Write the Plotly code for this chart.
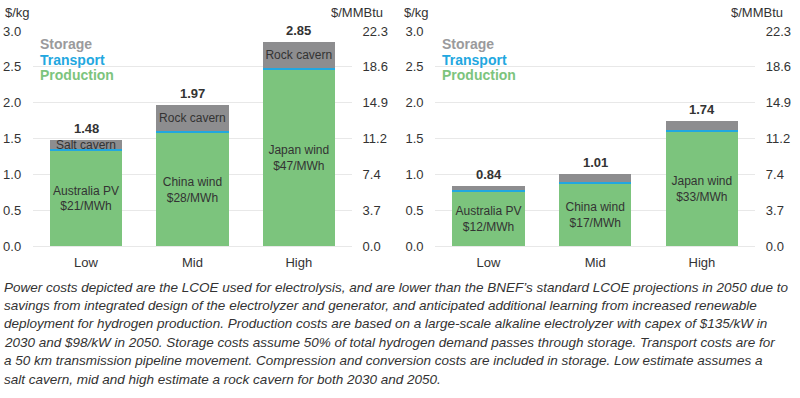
import plotly.graph_objects as go

categories = ["Low", "Mid", "High"]
# Left panel (2030)
left_production = [1.32, 1.57, 2.45]
left_transport = [0.03, 0.03, 0.03]
left_storage = [0.13, 0.37, 0.37]
left_totals = [1.48, 1.97, 2.85]
left_prod_labels = ["Australia PV<br>$21/MWh", "China wind<br>$28/MWh", "Japan wind<br>$47/MWh"]
left_storage_labels = ["Salt cavern", "Rock cavern", "Rock cavern"]
# Right panel (2050)
right_production = [0.75, 0.86, 1.59]
right_transport = [0.03, 0.03, 0.03]
right_storage = [0.06, 0.12, 0.12]
right_totals = [0.84, 1.01, 1.74]
right_prod_labels = ["Australia PV<br>$12/MWh", "China wind<br>$17/MWh", "Japan wind<br>$33/MWh"]
right_storage_labels = ["", "", ""]

kg_ticks = [0.0, 0.5, 1.0, 1.5, 2.0, 2.5, 3.0]
mmbtu_per_kg = 7.44
mmbtu_ticks = [t * mmbtu_per_kg for t in kg_ticks]

caption_lines = [
    "Power costs depicted are the LCOE used for electrolysis, and are lower than the BNEF\u2019s standard LCOE projections in 2050 due to",
    "savings from integrated design of the electrolyzer and generator, and anticipated additional learning from increased renewable",
    "deployment for hydrogen production. Production costs are based on a large-scale alkaline electrolyzer with capex of $135/kW in",
    "2030 and $98/kW in 2050. Storage costs assume 50% of total hydrogen demand passes through storage. Transport costs are for",
    "a 50 km transmission pipeline movement. Compression and conversion costs are included in storage. Low estimate assumes a",
    "salt cavern, mid and high estimate a rock cavern for both 2030 and 2050.",
]

GREEN = "#7CC47D"
BLUE = "#22A7E0"
GREY = "#8D8D8F"
TXT = "#333333"
FONT = "Liberation Sans, Arial, sans-serif"

LEFT_DOM = [0.041, 0.44]
RIGHT_DOM = [0.544, 0.944]

fig = go.Figure()
annotations = []

def add_panel(xa, ya, prod, trans, stor, totals, prod_lbl, stor_lbl):
    fig.add_trace(go.Bar(x=categories, y=prod, marker=dict(color=GREEN, line=dict(width=0)), width=0.68,
                         text=prod_lbl, textposition="inside", insidetextanchor="middle", textangle=0,
                         textfont=dict(size=12, color=TXT, family=FONT), constraintext="none",
                         xaxis=xa, yaxis=ya, showlegend=False, hoverinfo="skip"))
    fig.add_trace(go.Bar(x=categories, y=trans, marker=dict(color=BLUE, line=dict(width=0)), width=0.68,
                         xaxis=xa, yaxis=ya, showlegend=False, hoverinfo="skip"))
    fig.add_trace(go.Bar(x=categories, y=stor, marker=dict(color=GREY, line=dict(width=0)), width=0.68,
                         text=stor_lbl, textposition="inside", insidetextanchor="middle", textangle=0,
                         textfont=dict(size=12, color=TXT, family=FONT), constraintext="none",
                         xaxis=xa, yaxis=ya, showlegend=False, hoverinfo="skip"))
    for c, v in zip(categories, totals):
        annotations.append(dict(text=f"<b>{v:.2f}</b>", x=c, y=v, xref=xa, yref=ya,
                                xanchor="center", yanchor="bottom", yshift=2, showarrow=False,
                                font=dict(size=13, color=TXT, family=FONT)))

add_panel("x", "y", left_production, left_transport, left_storage, left_totals,
          left_prod_labels, left_storage_labels)
add_panel("x2", "y2", right_production, right_transport, right_storage, right_totals,
          right_prod_labels, right_storage_labels)

# invisible traces for secondary axes
fig.add_trace(go.Scatter(x=categories, y=[None, None, None], xaxis="x", yaxis="y3",
                         showlegend=False, hoverinfo="skip"))
fig.add_trace(go.Scatter(x=categories, y=[None, None, None], xaxis="x2", yaxis="y4",
                         showlegend=False, hoverinfo="skip"))

ydom = [0.382, 0.922]
common_y = dict(domain=ydom, range=[0, 3], tickvals=kg_ticks, tickformat=".1f",
                showgrid=True, gridcolor="#E8E8E8", gridwidth=1, zeroline=False,
                showline=False, ticks="outside", ticklen=8, tickcolor="rgba(0,0,0,0)",
                automargin=False,
                tickfont=dict(size=13, color=TXT, family=FONT), fixedrange=True)
common_y2 = dict(domain=ydom, range=[0, 3 * mmbtu_per_kg], tickvals=mmbtu_ticks,
                 ticktext=[f"{v:.1f}" for v in mmbtu_ticks], side="right", automargin=False,
                 showgrid=False, zeroline=False, showline=False,
                 ticks="outside", ticklen=7, tickcolor="rgba(0,0,0,0)",
                 tickfont=dict(size=13, color=TXT, family=FONT))
common_x = dict(showline=True, linecolor="#E8E8E8", linewidth=1, automargin=False,
                ticks="outside", ticklen=4, tickcolor="rgba(0,0,0,0)",
                tickfont=dict(size=13, color=TXT, family=FONT),
                range=[-0.5, 2.5], showgrid=False)

fig.update_layout(
    width=800, height=398, autosize=False,
    margin=dict(l=0, r=0, t=0, b=0, pad=0, autoexpand=False),
    paper_bgcolor="white", plot_bgcolor="white",
    barmode="stack", bargap=0.32,
    font=dict(family=FONT, color=TXT),
    xaxis=dict(domain=LEFT_DOM, anchor="y", **common_x),
    xaxis2=dict(domain=RIGHT_DOM, anchor="y2", **common_x),
    yaxis=dict(anchor="x", **common_y),
    yaxis2=dict(anchor="x2", **common_y),
    yaxis3=dict(overlaying="y", anchor="free", position=LEFT_DOM[1], **common_y2),
    yaxis4=dict(overlaying="y2", anchor="free", position=RIGHT_DOM[1], **common_y2),
)

# axis unit titles
for xl, xr in [(0.004, 0.481), (0.503, 0.981)]:
    annotations.append(dict(text="$/kg", x=xl, y=1 - 12 / 398, xref="paper", yref="paper",
                            xanchor="left", yanchor="middle", showarrow=False,
                            font=dict(size=13, color=TXT, family=FONT)))
    annotations.append(dict(text="$/MMBtu", x=xr, y=1 - 12 / 398, xref="paper", yref="paper",
                            xanchor="right", yanchor="middle", showarrow=False,
                            font=dict(size=13, color=TXT, family=FONT)))
# legends
legend_items = [("Storage", "#9A9A9C"), ("Transport", BLUE), ("Production", GREEN)]
for xl in [38 / 800, 440 / 800]:
    for i, (name, col) in enumerate(legend_items):
        annotations.append(dict(text=f"<b>{name}</b>", x=xl, y=1 - (44 + 15.5 * i) / 398,
                                xref="paper", yref="paper", xanchor="left", yanchor="middle",
                                showarrow=False, font=dict(size=14, color=col, family=FONT)))
# caption
for i, line in enumerate(caption_lines):
    annotations.append(dict(text=f"<i>{line}</i>", x=2 / 800, y=1 - (287 + 18.4 * i) / 398,
                            xref="paper", yref="paper", xanchor="left", yanchor="middle",
                            showarrow=False, font=dict(size=13.5, color=TXT, family=FONT)))
fig.update_layout(annotations=annotations)

fig.write_html("out.html", config={"displayModeBar": False},
               post_script="document.body.style.margin='0px';document.body.style.padding='0px';")
